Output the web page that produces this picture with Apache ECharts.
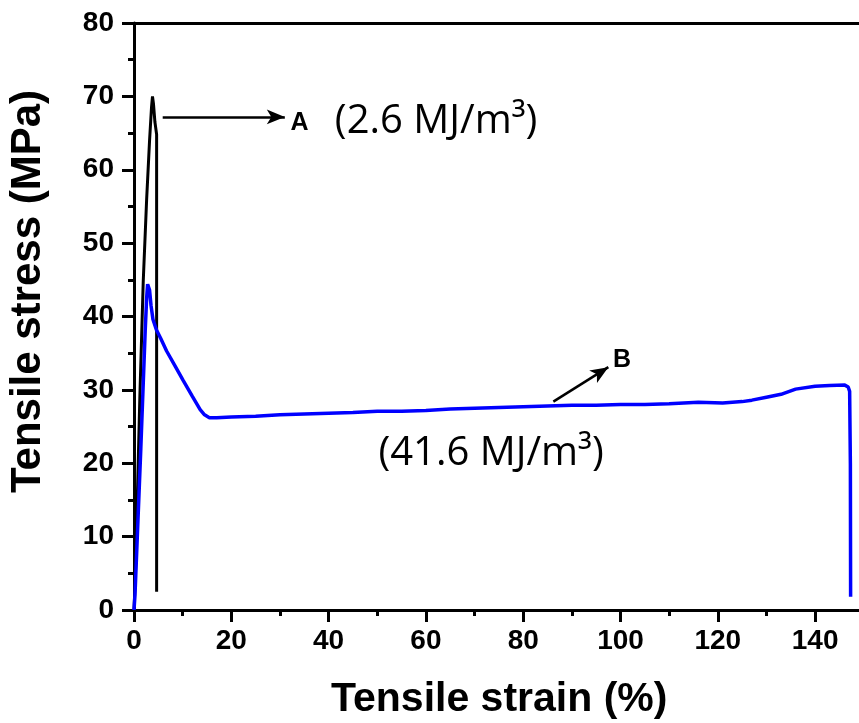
<!DOCTYPE html>
<html>
<head>
<meta charset="utf-8">
<script src="https://cdn.jsdelivr.net/npm/echarts@6/dist/echarts.min.js"></script>
<style>
html,body{margin:0;padding:0;background:#fff;}
#chart{width:859px;height:723px;}
</style>
</head>
<body>
<div id="chart"></div>
<script>
// Axis ranges / ticks
const xTicks = {min: 0, max: 160, interval: 20};
const yTicks = {min: 0, max: 80, interval: 10};

// Curve A (black): [strain %, stress MPa]
const strainA = [0, 0.3, 0.6, 1.2, 1.9, 2.6, 3.2, 3.6, 3.8, 4.0, 4.3, 4.65, 4.65];
const stressA = [0, 5, 13, 29, 44.8, 56, 64, 68.5, 70, 69, 66.5, 64.8, 2.5];

// Curve B (blue)
const strainB = [0, 0.2, 1.4, 2.3, 2.6, 2.8, 3.0, 3.2, 3.5, 3.9, 4.6, 5.5, 6.7, 8.4, 10.1, 12.0, 13.6, 14.5, 15.5, 17, 20, 25, 30, 35, 40, 45, 50, 55, 60, 65, 70, 75, 80, 85, 90, 95, 100, 105, 110, 116, 121, 125, 127, 130, 133, 136, 140, 143, 146.1, 146.8, 147.1, 147.25, 147.3];
const stressB = [0, 2, 22, 38, 42.5, 44.4, 44.5, 43.6, 41.5, 39.6, 38.2, 37.0, 35.3, 33.3, 31.3, 29.1, 27.3, 26.6, 26.2, 26.2, 26.3, 26.4, 26.6, 26.7, 26.8, 26.9, 27.1, 27.1, 27.2, 27.4, 27.5, 27.6, 27.7, 27.8, 27.9, 27.9, 28.0, 28.0, 28.1, 28.3, 28.2, 28.4, 28.6, 29.0, 29.4, 30.1, 30.5, 30.6, 30.65, 30.4, 29.8, 20, 1.8];

// Annotation arrows (data coords)
const arrowA = [[5.9, 67.2], [31.0, 67.2]];
const arrowB = [[86.2, 28.4], [97.5, 33.1]];
const labels = [
  {text: 'A', at: [34.0, 66.4], bold: true},
  {text: '(2.6 MJ/m\u00B3)', at: [62.1, 66.5], bold: false},
  {text: 'B', at: [100.3, 34.0], bold: true},
  {text: '(41.6 MJ/m\u00B3)', at: [73.4, 21.3], bold: false}
];

const pairs = (xs, ys) => xs.map((x, i) => [x, ys[i]]);

const chart = echarts.init(document.getElementById('chart'), null, {renderer: 'canvas'});
const boldFont = 'Liberation Sans, Arial, sans-serif';

const option = {
  animation: false,
  backgroundColor: '#ffffff',
  grid: {left: 134, top: 23, width: 778.4, height: 587, outerBoundsMode: 'none', containLabel: false},
  xAxis: [{
    type: 'value', min: xTicks.min, max: xTicks.max, interval: xTicks.interval,
    position: 'bottom',
    name: 'Tensile strain (%)', nameLocation: 'middle', nameGap: 69,
    nameTextStyle: {fontFamily: boldFont, fontWeight: 'bold', fontSize: 41, color: '#000', padding: [0, 48, 0, 0]},
    axisLine: {show: true, onZero: false, lineStyle: {color: '#000', width: 3}},
    axisTick: {show: true, inside: false, length: 12, lineStyle: {color: '#000', width: 3}},
    minorTick: {show: true, splitNumber: 2, length: 6, lineStyle: {color: '#000', width: 3}},
    splitLine: {show: false},
    axisLabel: {fontFamily: boldFont, fontWeight: 'bold', fontSize: 28, color: '#000', margin: 17, showMaxLabel: false}
  }, {
    type: 'value', min: xTicks.min, max: xTicks.max, position: 'top',
    axisLine: {show: true, onZero: false, lineStyle: {color: '#000', width: 3}},
    axisTick: {show: false}, axisLabel: {show: false}, splitLine: {show: false}
  }],
  yAxis: [{
    type: 'value', min: yTicks.min, max: yTicks.max, interval: yTicks.interval,
    name: 'Tensile stress (MPa)', nameLocation: 'middle', nameGap: 85,
    nameTextStyle: {fontFamily: boldFont, fontWeight: 'bold', fontSize: 42, color: '#000', padding: [0, 0, 0, 50]},
    axisLine: {show: true, onZero: false, lineStyle: {color: '#000', width: 3}},
    axisTick: {show: true, inside: false, length: 12, lineStyle: {color: '#000', width: 3}},
    minorTick: {show: true, splitNumber: 2, length: 6, lineStyle: {color: '#000', width: 3}},
    splitLine: {show: false},
    axisLabel: {fontFamily: boldFont, fontWeight: 'bold', fontSize: 28, color: '#000', margin: 20}
  }],
  series: [{
    name: 'A', type: 'line', xAxisIndex: 0, yAxisIndex: 0,
    data: pairs(strainA, stressA), showSymbol: false, symbol: 'none',
    lineStyle: {color: '#000000', width: 3}, z: 3,
    markLine: {
      silent: true, symbol: ['none', 'arrow'], symbolSize: [11, 18],
      lineStyle: {color: '#000', width: 2.5, type: 'solid'}, label: {show: false},
      data: [[{coord: arrowA[0]}, {coord: arrowA[1]}], [{coord: arrowB[0]}, {coord: arrowB[1]}]]
    }
  }, {
    name: 'B', type: 'line', xAxisIndex: 0, yAxisIndex: 0,
    data: pairs(strainB, stressB), showSymbol: false, symbol: 'none',
    lineStyle: {color: '#0000ff', width: 3.5}, z: 4
  }]
};
chart.setOption(option);

const graphics = labels.map(l => {
  const p = chart.convertToPixel({xAxisIndex: 0, yAxisIndex: 0}, l.at);
  return {
    type: 'text', x: p[0], y: p[1],
    style: {
      text: l.text, fill: '#000', align: 'center', verticalAlign: 'middle',
      font: l.bold ? ('bold 25px ' + boldFont) : '40px "Open Sans", sans-serif'
    }
  };
});
chart.setOption({graphic: graphics});
</script>
</body>
</html>
